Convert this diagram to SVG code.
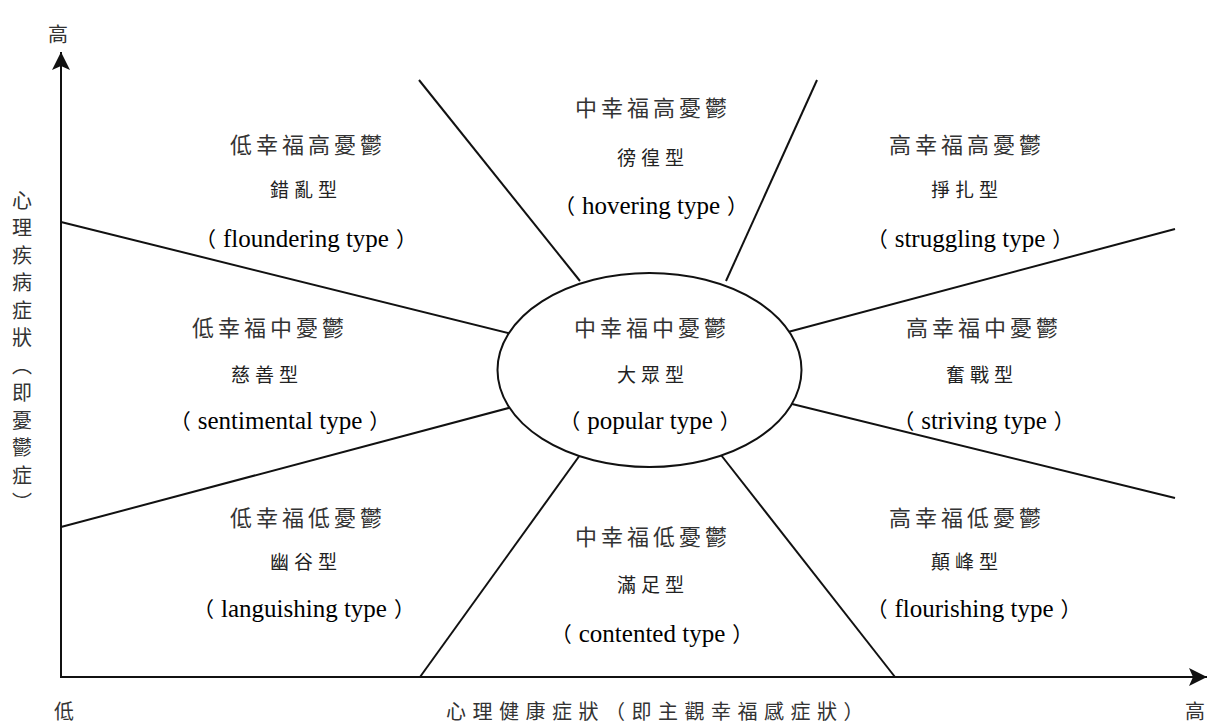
<svg xmlns="http://www.w3.org/2000/svg" width="1209" height="724" viewBox="0 0 1209 724">
<style>
.ln{stroke:#111;stroke-width:2;fill:none}
.h{font-family:"Noto Sans CJK TC","Noto Sans CJK SC",sans-serif;font-size:22px;letter-spacing:4px;fill:#333;text-anchor:middle}
.t{font-family:"Noto Sans CJK TC","Noto Sans CJK SC",sans-serif;font-size:19px;letter-spacing:5px;fill:#222;text-anchor:middle}
.e{font-family:"Liberation Serif","Noto Sans CJK TC",serif;font-size:25px;fill:#000;text-anchor:middle}
.p{font-family:"Noto Sans CJK TC","Noto Sans CJK SC",sans-serif;font-size:21px}
.ax{font-family:"Noto Sans CJK TC","Noto Sans CJK SC",sans-serif;font-size:20px;fill:#333}
</style>
<defs>
<marker id="arr" markerUnits="userSpaceOnUse" markerWidth="22" markerHeight="20" refX="20" refY="10" orient="auto">
<path d="M20,10 L2,1 L6,10 L2,19 Z" fill="#111"/>
</marker>
</defs>
<rect width="1209" height="724" fill="#fff"/>
<g id="axes">
<line class="ln" x1="61" y1="678" x2="61" y2="52" marker-end="url(#arr)"/>
<line class="ln" x1="60" y1="677" x2="1207" y2="677" marker-end="url(#arr)"/>
<text class="ax" x="58" y="42" text-anchor="middle">高</text>
<text class="ax" x="64" y="719" text-anchor="middle">低</text>
<text class="ax" x="1195" y="719" text-anchor="middle">高</text>
<text class="ax" x="446" y="719" style="letter-spacing:6.5px">心理健康症狀（即主觀幸福感症狀）</text>
<text class="ax" x="22" y="190" style="writing-mode:vertical-rl;letter-spacing:7.5px">心理疾病症狀（即憂鬱症）</text>
</g>
<g id="connectors">
<line class="ln" x1="61" y1="222" x2="512" y2="334"/>
<line class="ln" x1="61" y1="527" x2="516" y2="406"/>
<line class="ln" x1="419" y1="80" x2="580" y2="281"/>
<line class="ln" x1="817" y1="80" x2="726" y2="281"/>
<line class="ln" x1="1175" y1="229" x2="788" y2="332"/>
<line class="ln" x1="1175" y1="498" x2="788" y2="403"/>
<line class="ln" x1="420" y1="677" x2="580" y2="455"/>
<line class="ln" x1="895" y1="677" x2="721" y2="455"/>
</g>
<g id="center">
<ellipse cx="649.5" cy="370" rx="152" ry="97" fill="#fff" stroke="#111" stroke-width="2"/>
<text class="h" x="652" y="336">中幸福中憂鬱</text>
<text class="t" x="653" y="382">大眾型</text>
<text class="e" x="650" y="429"><tspan class="p">（</tspan><tspan dx="7">popular type</tspan><tspan class="p" dx="7">）</tspan></text>
</g>
<g id="top-left">
<text class="h" x="308" y="153">低幸福高憂鬱</text>
<text class="t" x="306" y="197">錯亂型</text>
<text class="e" x="306" y="247"><tspan class="p">（</tspan><tspan dx="7">floundering type</tspan><tspan class="p" dx="7">）</tspan></text>
</g>
<g id="top-middle">
<text class="h" x="653" y="116">中幸福高憂鬱</text>
<text class="t" x="653" y="165">徬徨型</text>
<text class="e" x="651" y="214"><tspan class="p">（</tspan><tspan dx="7">hovering type</tspan><tspan class="p" dx="7">）</tspan></text>
</g>
<g id="top-right">
<text class="h" x="967" y="153">高幸福高憂鬱</text>
<text class="t" x="967" y="197">掙扎型</text>
<text class="e" x="970" y="247"><tspan class="p">（</tspan><tspan dx="7">struggling type</tspan><tspan class="p" dx="7">）</tspan></text>
</g>
<g id="middle-left">
<text class="h" x="270" y="336">低幸福中憂鬱</text>
<text class="t" x="267" y="382">慈善型</text>
<text class="e" x="280" y="429"><tspan class="p">（</tspan><tspan dx="7">sentimental type</tspan><tspan class="p" dx="7">）</tspan></text>
</g>
<g id="middle-right">
<text class="h" x="984" y="336">高幸福中憂鬱</text>
<text class="t" x="982" y="382">奮戰型</text>
<text class="e" x="984" y="429"><tspan class="p">（</tspan><tspan dx="7">striving type</tspan><tspan class="p" dx="7">）</tspan></text>
</g>
<g id="bottom-left">
<text class="h" x="308" y="526">低幸福低憂鬱</text>
<text class="t" x="306" y="569">幽谷型</text>
<text class="e" x="304" y="617"><tspan class="p">（</tspan><tspan dx="7">languishing type</tspan><tspan class="p" dx="7">）</tspan></text>
</g>
<g id="bottom-middle">
<text class="h" x="653" y="545">中幸福低憂鬱</text>
<text class="t" x="653" y="592">滿足型</text>
<text class="e" x="652" y="642"><tspan class="p">（</tspan><tspan dx="7">contented type</tspan><tspan class="p" dx="7">）</tspan></text>
</g>
<g id="bottom-right">
<text class="h" x="967" y="526">高幸福低憂鬱</text>
<text class="t" x="967" y="569">顛峰型</text>
<text class="e" x="974" y="617"><tspan class="p">（</tspan><tspan dx="7">flourishing type</tspan><tspan class="p" dx="7">）</tspan></text>
</g>
</svg>
